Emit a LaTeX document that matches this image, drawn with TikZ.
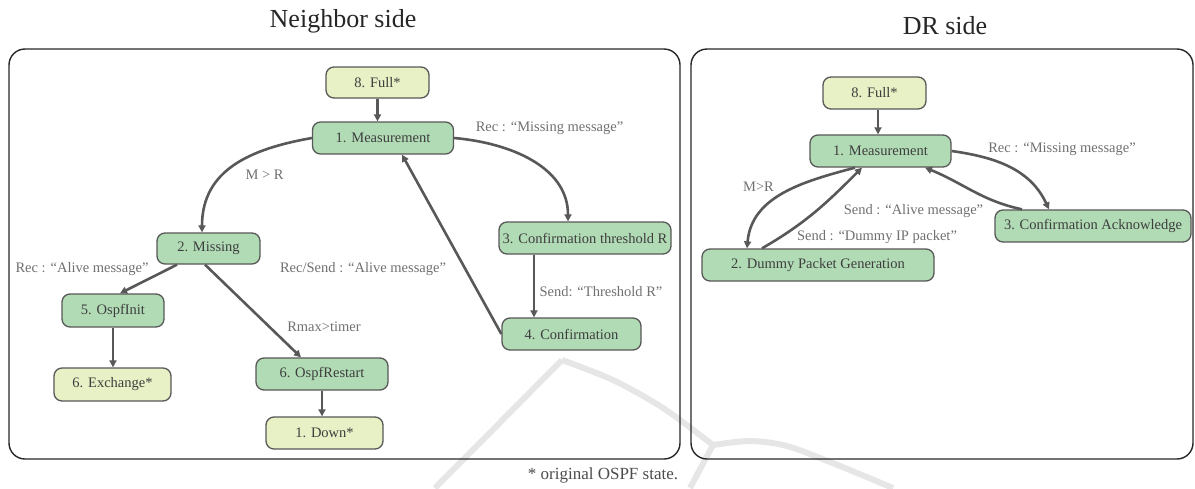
\documentclass[tikz,border=0pt]{standalone}
\usepackage{fontspec}
\setmainfont{Liberation Serif}
\usetikzlibrary{arrows.meta}

\definecolor{stategreen}{RGB}{177,219,181}
\definecolor{origyellow}{RGB}{231,241,197}
\definecolor{boxline}{RGB}{88,88,88}
\definecolor{flowgray}{RGB}{88,88,88}
\definecolor{statetext}{RGB}{62,62,62}
\definecolor{labeltext}{RGB}{112,112,112}
\definecolor{emblemgray}{RGB}{230,230,230}

\tikzset{
  state/.style={draw=boxline, line width=1.3pt, rounded corners=8pt, fill=stategreen,
    minimum height=32pt, inner sep=0pt, text=statetext,
    font=\fontsize{14.5}{17}\selectfont},
  origstate/.style={state, fill=origyellow},
  flow/.style={draw=flowgray, line width=2.6pt, -{Triangle[length=7pt,width=7pt]}},
  lbl/.style={inner sep=0pt, text=labeltext, font=\fontsize{14.5}{17}\selectfont},
  panel/.style={draw=black!85, line width=1.4pt, rounded corners=16pt},
  heading/.style={inner sep=0pt, text=black!85, font=\fontsize{26}{30}\selectfont},
  emblem/.style={draw=emblemgray, line width=6pt, line join=round}
}

\begin{document}
\begin{tikzpicture}[x=1pt,y=-1pt]
\useasboundingbox (0,0) rectangle (1195,488);

% faint background emblem
\draw[emblem] (435,488) -- (562,360);
\draw[emblem] plot[smooth] coordinates {(562,360) (613,380) (663,408) (713,445)};
\draw[emblem] (713,445) -- (690,488);
\draw[emblem] plot[smooth] coordinates {(713,445) (750,441) (787,446) (835,464) (893,488)};

% panels and headings
\draw[panel] (9,49) rectangle (680,459);
\draw[panel] (691,49) rectangle (1193,459);
\node[heading] (titleL) at (343,21) {Neighbor side};
\node[heading] (titleR) at (945,26) {DR side};

% ---- neighbor side states
\node[origstate, minimum width=103pt, minimum height=31pt] (fullL) at (377.5,82.5) {8. Full*};
\node[state, minimum width=141pt] (measL) at (383,138) {1. Measurement};
\node[state, minimum width=103pt, minimum height=31pt] (missing) at (208.5,248.5) {2. Missing};
\node[state, minimum width=102pt, minimum height=33pt] (ospfinit) at (113,310.5) {5. OspfInit};
\node[origstate, minimum width=117pt, minimum height=33pt] (exchange) at (112.5,384.5) {6. Exchange*};
\node[state, minimum width=132pt] (restart) at (322,374) {6. OspfRestart};
\node[origstate, minimum width=117pt] (down) at (324.5,433) {1. Down*};
\node[state, minimum width=172pt] (confthr) at (585,238) {3. Confirmation threshold R};
\node[state, minimum width=139pt] (conf) at (571.5,334) {4. Confirmation};

% ---- neighbor side transitions
\draw[flow] (fullL.south) -- (fullL.south |- measL.north);
\draw[flow] (measL.west) to[out=190,in=90,looseness=1.1] ([xshift=-6.5pt]missing.north);
\draw[flow] (measL.east) to[out=-5,in=90] ([xshift=-17pt]confthr.north);
\coordinate (thrdown) at ([xshift=-51pt]confthr.south);
\draw[flow] (thrdown) -- (thrdown |- conf.north);
\draw[flow] (conf.west) -- ([xshift=19pt]measL.south);
\draw[flow] ([xshift=-31.5pt]missing.south) -- ([xshift=7pt]ospfinit.north);
\draw[flow] ([xshift=-3.5pt]missing.south) -- ([xshift=-21pt]restart.north);
\draw[flow] (ospfinit.south) -- (ospfinit.south |- exchange.north);
\draw[flow] (restart.south) -- (restart.south |- down.north);

\node[lbl] (lMR) at (264.5,175) {M > R};
\node[lbl] (lRecMiss) at (549.5,128) {Rec : “Missing message”};
\node[lbl] (lRecAlive) at (82,269) {Rec : “Alive message”};
\node[lbl] (lRecSend) at (363,269) {Rec/Send : “Alive message”};
\node[lbl] (lRmax) at (324,327) {Rmax>timer};
\node[lbl] (lThr) at (601,292) {Send: “Threshold R”};

% ---- DR side states
\node[origstate, minimum width=103pt] (fullR) at (874.5,93) {8. Full*};
\node[state, minimum width=141pt] (measR) at (880.5,151) {1. Measurement};
\node[state, minimum width=232pt] (dummy) at (818,265) {2. Dummy Packet Generation};
\node[state, minimum width=196pt] (ack) at (1093,226) {3. Confirmation Acknowledge};

% ---- DR side transitions
\coordinate (fullRdown) at ([xshift=3.5pt]fullR.south);
\draw[flow] (fullRdown) -- (fullRdown |- measR.north);
\draw[flow] ([xshift=-25.5pt]measR.south) to[out=195,in=85] ([xshift=-71pt]dummy.north);
\draw[flow] ([xshift=-56pt]dummy.north) to[out=30,in=225] ([xshift=-18.5pt]measR.south);
\draw[flow] (measR.east) to[out=-8,in=115] ([xshift=-44pt]ack.north);
\draw[flow] ([xshift=-71pt]ack.north) to[out=168,in=-22] ([xshift=44.5pt]measR.south);

\node[lbl] (rRecMiss) at (1062,149) {Rec : “Missing message”};
\node[lbl] (rMR) at (758.5,187) {M>R};
\node[lbl] (rAlive) at (913.5,211) {Send : “Alive message”};
\node[lbl] (rDummy) at (877,237) {Send : “Dummy IP packet”};

% footnote
\node[inner sep=0pt, text=black!70, font=\fontsize{17}{20}\selectfont] (note) at (603,475) {* original OSPF state.};
\end{tikzpicture}
\end{document}
